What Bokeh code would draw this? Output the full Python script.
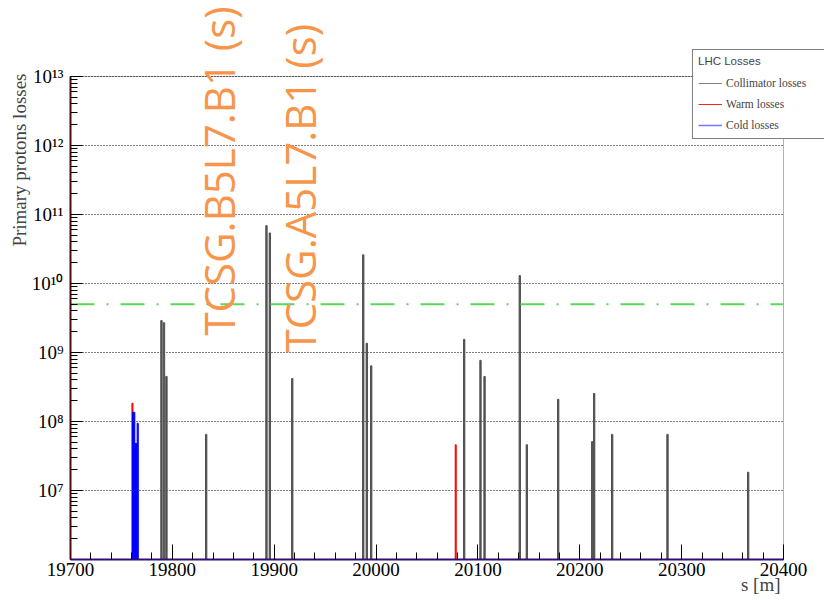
from math import pi, log10
from bokeh.plotting import figure
from bokeh.models import (FixedTicker, Label, Legend, LegendItem, BoxAnnotation,
                          ColumnDataSource, Range1d, CustomJSTickFormatter)
from bokeh.embed import file_html
from bokeh.resources import INLINE

# ---------------- data ----------------
coll_s = [19789.3, 19791.8, 19794.2, 19833.2, 19892.4, 19895.7, 19917.7,
          19987.4, 19990.9, 19995.2, 20086.5, 20102.5, 20106.5, 20141.1,
          20148.0, 20178.8, 20212.2, 20214.1, 20231.8, 20286.1, 20365.3]
coll_loss = [2.9e9, 2.7e9, 4.5e8, 6.5e7, 6.9e10, 5.4e10, 4.2e8,
             2.6e10, 1.36e9, 6.4e8, 1.55e9, 7.7e8, 4.5e8, 1.3e10,
             4.6e7, 2.1e8, 5.1e7, 2.55e8, 6.5e7, 6.5e7, 1.84e7]

warm_s = [19760.8, 20078.2]
warm_loss = [1.84e8, 4.6e7]

cold_s = [19762.0, 19764.2, 19766.0]
cold_loss = [1.36e8, 4.8e7, 9.4e7]
cold_w = [2.3, 2.2, 1.1]

x_ticks = [19700, 19800, 19900, 20000, 20100, 20200, 20300, 20400]
x_minor = list(range(19700, 20401, 20))
y_exponents = [7, 8, 9, 10, 11, 12, 13]
y_minor = [m * 10.0 ** e for e in range(6, 13) for m in range(2, 10)]
threshold = 5e9

coll_names = ["TCSG.B5L7.B1 (s)", "TCSG.A5L7.B1 (s)"]
name_s = [19845.3, 19924.8]
name_loss = [1.76e9, 1.0e9]

legend_title = "LHC Losses"
series_names = ["Collimator losses", "Warm losses", "Cold losses"]
x_title = "s [m]"
y_title = "Primary protons losses"

X0, X1 = 19700.0, 20400.0      # axis extent
Y0, Y1 = 1e6, 1e13

# ---------------- layout (pixels of the 824x600 canvas) ----------------
W, H = 824, 600
FL, FR, FT, FB = 70, 783, 76, 559   # drawn frame edges
xs = (FR - FL) / (X1 - X0)
x_start = X0 - FL / xs
x_end = X1 + (W - FR) / xs
dec_px = (FB - FT) / (log10(Y1) - log10(Y0))
y_start = 10 ** (log10(Y0) - (H - FB) / dec_px)
y_end = 10 ** (log10(Y1) + FT / dec_px)

p = figure(width=W, height=H, y_axis_type="log",
           x_range=Range1d(x_start, x_end), y_range=Range1d(y_start, y_end),
           output_backend="svg", toolbar_location=None,
           min_border_left=0, min_border_right=0,
           min_border_top=0, min_border_bottom=0)
p.background_fill_color = "white"
p.border_fill_color = "white"
p.outline_line_color = None
p.xgrid.visible = False
p.ygrid.visible = False

# frame box
p.add_layout(BoxAnnotation(left=X0, right=X1, bottom=Y0, top=Y1,
                           fill_alpha=0, line_color="black", line_width=1,
                           level="underlay"))

# horizontal dotted grid at each decade
grid_y = [10.0 ** e for e in y_exponents]
p.segment(x0=[X0] * len(grid_y), x1=[X1] * len(grid_y), y0=grid_y, y1=grid_y,
          line_color="black", line_width=1, line_dash="1 2")

# axes, placed on the frame edges
p.xaxis.fixed_location = Y0
p.yaxis.fixed_location = X0
p.xaxis.bounds = (X0, X1)
p.yaxis.bounds = (Y0, Y1)
p.xaxis.ticker = FixedTicker(ticks=x_ticks, minor_ticks=x_minor)
p.yaxis.ticker = FixedTicker(ticks=grid_y, minor_ticks=y_minor)
p.yaxis.formatter = CustomJSTickFormatter(code="""
const sup = {'0':'\u2070','1':'\u00b9','2':'\u00b2','3':'\u00b3','4':'\u2074',
             '5':'\u2075','6':'\u2076','7':'\u2077','8':'\u2078','9':'\u2079'};
const e = String(Math.round(Math.log10(tick)));
return '10' + e.split('').map(c => sup[c]).join('');
""")
for ax in (p.xaxis[0], p.yaxis[0]):
    ax.major_tick_out = 0
    ax.minor_tick_out = 0
    ax.major_label_text_font = "Liberation Serif"
    ax.major_label_text_font_size = "19px"
    ax.major_label_text_color = "black"
p.xaxis.major_tick_in = 15
p.xaxis.minor_tick_in = 7
p.yaxis.major_tick_in = 12
p.yaxis.minor_tick_in = 7
p.xaxis.major_label_standoff = 3
p.yaxis.major_label_standoff = 7
p.xaxis.axis_line_color = "#340c78"
p.xaxis.axis_line_width = 2
p.yaxis.axis_line_color = "#4a0c14"
p.yaxis.axis_line_width = 2

# ---------------- bars ----------------
p.vbar(x=coll_s, top=coll_loss, bottom=Y0, width=1.3, color="#505050")
p.vbar(x=warm_s, top=warm_loss, bottom=Y0, width=1.0, color="#ff0000")
p.vbar(x=cold_s, top=cold_loss, bottom=Y0, width=cold_w, color="#0000ff")

# threshold line
p.segment(x0=[X0], x1=[X1], y0=[threshold], y1=[threshold], line_color="#5cd65c",
          line_width=2, line_dash="24 12 2 12")

for name, s, v in zip(coll_names, name_s, name_loss):
    p.add_layout(Label(x=s, y=v, text=name, angle=pi / 2,
                       text_font="Open Sans", text_font_size="42px",
                       text_color="#f7964a", text_align="left",
                       text_baseline="alphabetic"))

p.add_layout(Label(x=X1, y=Y0, text=x_title, text_font="Liberation Serif",
                   text_font_size="19px", text_align="right",
                   text_baseline="alphabetic", x_offset=-3, y_offset=-25))
p.add_layout(Label(x=X0, y=Y1, text=y_title, angle=pi / 2,
                   text_font="Liberation Serif", text_font_size="19px",
                   text_align="right", text_baseline="alphabetic",
                   x_offset=-51, y_offset=3))

# ---------------- legend ----------------
nan = float("nan")
dummy = ColumnDataSource(data=dict(x=[nan], y=[nan]))
r1 = p.line("x", "y", source=dummy, line_color="#808080", line_width=1)
r2 = p.line("x", "y", source=dummy, line_color="#ff2020", line_width=1)
r3 = p.line("x", "y", source=dummy, line_color="#7777ff", line_width=1.5)
legend = Legend(items=[LegendItem(label=series_names[0], renderers=[r1]),
                       LegendItem(label=series_names[1], renderers=[r2]),
                       LegendItem(label=series_names[2], renderers=[r3])],
                location=(692, 461), title=legend_title,
                border_line_color="black", border_line_width=1,
                background_fill_color="white", background_fill_alpha=1,
                padding=5, spacing=5, margin=0,
                title_text_font="Liberation Sans", title_text_font_size="11.5px",
                title_text_font_style="normal", title_standoff=8,
                label_text_font="Liberation Serif", label_text_font_size="11.5px",
                glyph_width=24, glyph_height=16, label_height=16, label_width=93,
                label_standoff=4)
p.add_layout(legend)

open("out.html", "w").write(file_html(p, INLINE))
